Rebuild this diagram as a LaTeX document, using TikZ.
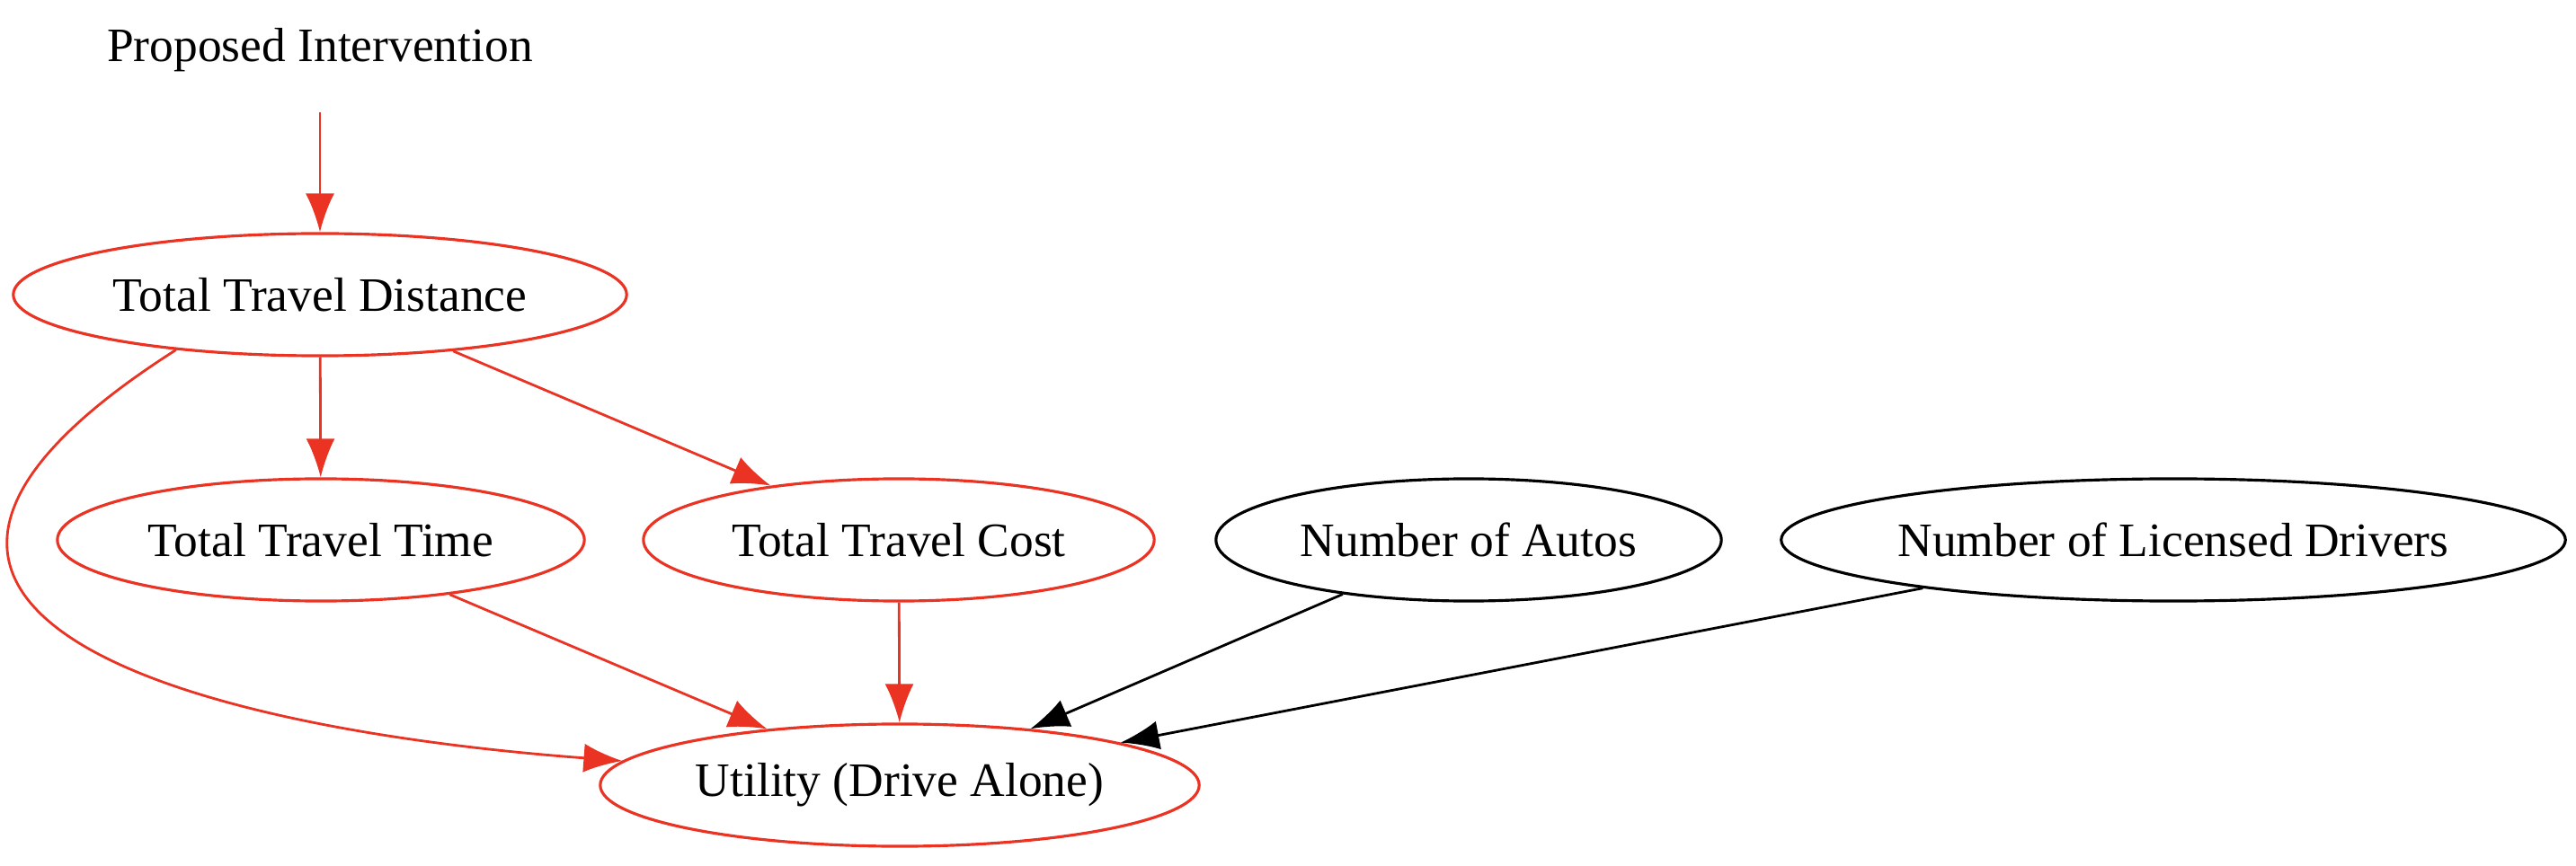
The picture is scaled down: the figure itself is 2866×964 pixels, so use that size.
\documentclass[tikz,border=0pt]{standalone}
\usepackage{fontspec}
\setmainfont{Liberation Serif}
\usetikzlibrary{shapes.geometric,arrows.meta}
\definecolor{gvred}{RGB}{234,51,35}

\begin{document}
\begin{tikzpicture}[x=0.01cm, y=-0.01cm,
    every node/.style={font=\fontsize{15.2}{18}\selectfont, inner sep=0pt, minimum height=1.36cm},
    var/.style={ellipse, draw, line width=0.9pt},
    redvar/.style={var, draw=gvred},
    link/.style={-{Latex[length=4.3mm,width=3.2mm]}, line width=0.8pt},
    redlink/.style={link, gvred}
]
\useasboundingbox (0,0) rectangle (2866,964);
  \node (PI) at (356,56) {Proposed Intervention};
  \node[redvar, minimum width=6.82cm] (TTD) at (356,328) {Total Travel Distance};
  \node[redvar, minimum width=5.86cm] (TTT) at (357,601) {Total Travel Time};
  \node[redvar, minimum width=5.68cm] (TTC) at (1000,601) {Total Travel Cost};
  \node[var, minimum width=5.62cm] (NA) at (1634,601) {Number of Autos};
  \node[var, minimum width=8.72cm] (NLD) at (2418,601) {Number of Licensed Drivers};
  \node[redvar, minimum width=6.66cm] (U) at (1001,874) {Utility (Drive Alone)};

  \draw[redlink] (PI) -- (TTD);
  \draw[redlink] (TTD) -- (TTT);
  \draw[redlink] (TTD) -- (TTC);
  \draw[redlink] (TTD.201) .. controls (-260,680) and (200,810) .. (U.175);
  \draw[redlink] (TTT) -- (U);
  \draw[redlink] (TTC) -- (U);
  \draw[link] (NA) -- (U);
  \draw[link] (NLD) -- (U);
\end{tikzpicture}
\end{document}
